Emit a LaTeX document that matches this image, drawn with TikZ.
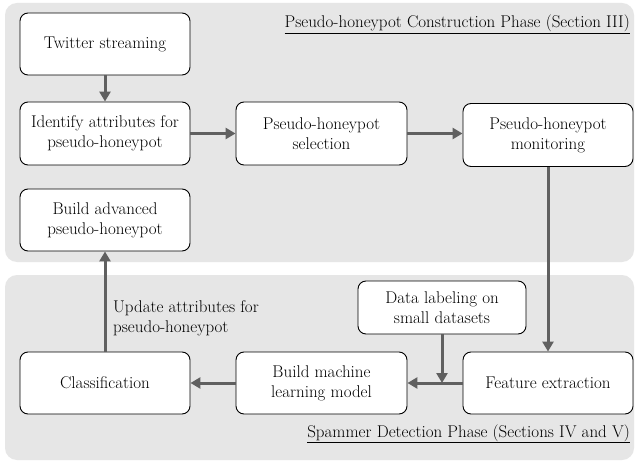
\documentclass[tikz,border=0pt]{standalone}
\usepackage{fontspec}
\usetikzlibrary{arrows.meta}
\definecolor{panel}{HTML}{E6E6E6}
\definecolor{arr}{HTML}{606060}
\tikzset{
  box/.style={draw=black, line width=0.9pt, fill=white, rounded corners=8pt, align=center, inner sep=0pt},
  flow/.style={draw=arr, line width=3pt, -{Triangle[length=10pt,width=11pt]}},
  phase/.style={fill=panel, rounded corners=12pt, draw=none},
}
\begin{document}
\begin{tikzpicture}[x=1pt,y=-1pt, font=\fontsize{17}{20}\selectfont]
\useasboundingbox (0,0) rectangle (636,462);
\fill[white] (0,0) rectangle (636,462);
\path[phase] (5,3) rectangle (634,262);
\path[phase] (5,275) rectangle (634,460);

\node[box, minimum width=170pt, minimum height=62pt] (tw) at (105,44) {Twitter streaming};
\node[box, minimum width=170pt, minimum height=63pt] (id) at (105,133.5) {Identify attributes for\\pseudo-honeypot};
\node[box, minimum width=171pt, minimum height=63pt] (sel) at (321.5,133.5) {Pseudo-honeypot\\selection};
\node[box, minimum width=170pt, minimum height=63pt] (mon) at (548,135) {Pseudo-honeypot\\monitoring};
\node[box, minimum width=170pt, minimum height=62pt] (adv) at (105,220) {Build advanced\\pseudo-honeypot};
\node[box, minimum width=168pt, minimum height=53pt] (lab) at (442,307.5) {Data labeling on\\small datasets};
\node[box, minimum width=170pt, minimum height=62pt] (cls) at (105,383) {Classification};
\node[box, minimum width=171pt, minimum height=62pt] (ml) at (321.5,383) {Build machine\\learning model};
\node[box, minimum width=170pt, minimum height=62pt] (fe) at (548,383) {Feature extraction};

\node[anchor=base east, inner sep=0pt] (t1) at (630,28) {\underline{Pseudo-honeypot Construction Phase (Section III)}};
\node[anchor=base east, inner sep=0pt] (t2) at (630,437) {\underline{Spammer Detection Phase (Sections IV and V)}};
\node[anchor=west, align=left, inner sep=0pt] (upd) at (113,318) {Update attributes for\\pseudo-honeypot};

\coordinate (j) at (lab.south |- fe.west);
\draw[flow] (tw.south) -- (id.north);
\draw[flow] (id.east) -- (sel.west);
\draw[flow] (sel.east) -- (sel.east -| mon.west);
\draw[flow] (mon.south) -- (fe.north);
\draw[flow] (lab.south) -- (j);
\draw[flow] (fe.west) -- (ml.east);
\draw[flow] (ml.west) -- (cls.east);
\draw[flow] (cls.north) -- (adv.south);
\end{tikzpicture}
\end{document}
